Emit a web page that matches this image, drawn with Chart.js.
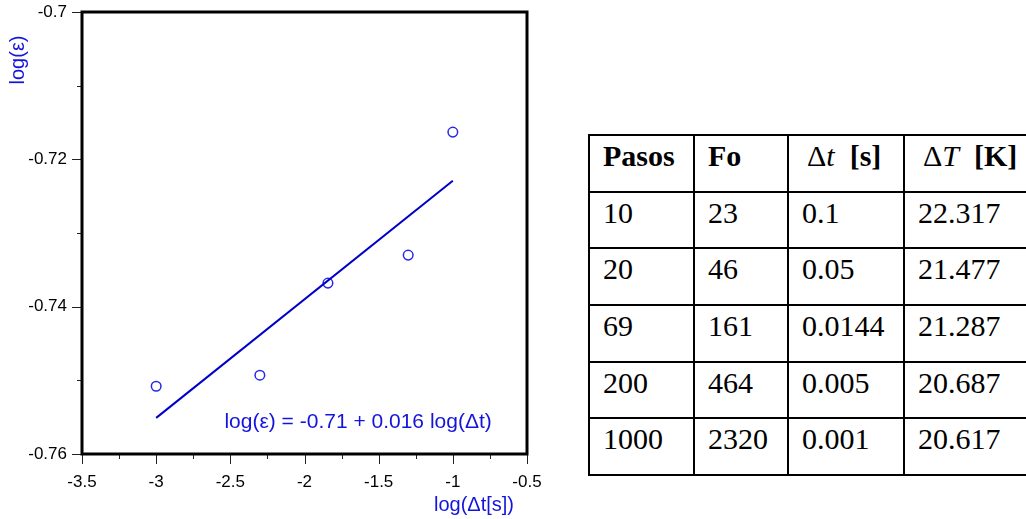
<html>
  <head>
    <script src="https://cdn.jsdelivr.net/npm/chart.js@4.4.0/dist/chart.umd.min.js"></script>
    <style>
      body { margin: 0; background: #fff; }
      #wrap { position: absolute; left: 0; top: 0; width: 560px; height: 519px; }
      table {
        position: absolute; left: 588px; top: 134px; width: 438px;
        border-collapse: collapse; table-layout: fixed;
        font-family: "Liberation Serif", "Times New Roman", serif; font-size: 30px;
      }
      td, th { border: 2px solid #000; padding: 3px 0 0 13px; vertical-align: top; text-align: left; font-weight: normal; }
      th.u { padding-left: 18px; }
      tr { height: 56.7px; }
      th b { font-weight: bold; }
    </style>
  </head>
  <body>
    <div id="wrap"><canvas id="myChart" width="560" height="519"></canvas></div>
    <table id="tbl">
      <colgroup><col style="width:105px"><col style="width:94px"><col style="width:116px"><col style="width:123px"></colgroup>
      <thead>
        <tr>
          <th><b>Pasos</b></th>
          <th><b>Fo</b></th>
          <th class="u">&Delta;<i>t</i>&nbsp; <b>[s]</b></th>
          <th class="u">&Delta;<i>T</i>&nbsp; <b>[K]</b></th>
        </tr>
      </thead>
      <tbody></tbody>
    </table>
  </body>
  <script>
    // measured points: log(dt) vs log(eps)
    const logDt = [-3, -2.301, -1.842, -1.301, -1];
    const logEps = [-0.7508, -0.7493, -0.7368, -0.7330, -0.7163];
    // fitted line end points
    const fitX = [-3, -1];
    const fitY = [-0.7551, -0.7229];

    // table columns
    const pasos = ['10', '20', '69', '200', '1000'];
    const fo = ['23', '46', '161', '464', '2320'];
    const dt = ['0.1', '0.05', '0.0144', '0.005', '0.001'];
    const dT = ['22.317', '21.477', '21.287', '20.687', '20.617'];

    const equation = 'log(\u03b5) = -0.71 + 0.016 log(\u0394t)';
    const blue = '#1414dc';

    const tbody = document.querySelector('#tbl tbody');
    pasos.forEach((p, i) => {
      const tr = document.createElement('tr');
      [p, fo[i], dt[i], dT[i]].forEach(v => {
        const td = document.createElement('td');
        td.textContent = v;
        tr.appendChild(td);
      });
      tbody.appendChild(tr);
    });

    const frame = {
      id: 'frame',
      afterDraw(chart) {
        const { ctx, chartArea: a, scales: { x, y } } = chart;
        ctx.save();
        // tick marks, long on labelled values, short between
        ctx.strokeStyle = '#222';
        ctx.lineWidth = 1;
        ctx.beginPath();
        for (let v = x.min; v <= x.max + 1e-9; v += 0.25) {
          const px = Math.round(x.getPixelForValue(v)) + 0.5;
          const major = Math.abs(v * 2 - Math.round(v * 2)) < 1e-6;
          ctx.moveTo(px, a.bottom);
          ctx.lineTo(px, a.bottom + (major ? 10 : 5));
        }
        for (let v = y.min; v <= y.max + 1e-9; v += 0.01) {
          const py = Math.round(y.getPixelForValue(v)) + 0.5;
          const major = Math.round(v * 100) % 2 === 0;
          ctx.moveTo(a.left, py);
          ctx.lineTo(a.left - (major ? 10 : 5), py);
        }
        ctx.stroke();
        // box
        ctx.strokeStyle = '#000';
        ctx.lineWidth = 3;
        ctx.strokeRect(a.left, a.top, a.right - a.left, a.bottom - a.top);
        // texts
        ctx.fillStyle = blue;
        ctx.font = '21px "Liberation Sans", Arial, sans-serif';
        ctx.textBaseline = 'middle';
        ctx.textAlign = 'left';
        ctx.fillText(equation, x.getPixelForValue(-2.54), y.getPixelForValue(-0.7557));
        ctx.font = '20px "Liberation Sans", Arial, sans-serif';
        ctx.textAlign = 'center';
        ctx.fillText('log(\u0394t[s])', 474, 505);
        ctx.translate(18, 60);
        ctx.rotate(-Math.PI / 2);
        ctx.fillText('log(\u03b5)', 0, 0);
        ctx.restore();
      }
    };

    const ctx = document.getElementById('myChart').getContext('2d');
    const myChart = new Chart(ctx, {
      data: {
        datasets: [{
          type: 'line',
          data: fitX.map((v, i) => ({ x: v, y: fitY[i] })),
          borderColor: '#0000c8',
          borderWidth: 2,
          pointRadius: 0,
          fill: false
        }, {
          type: 'scatter',
          data: logDt.map((v, i) => ({ x: v, y: logEps[i] })),
          borderColor: '#2828e6',
          backgroundColor: 'rgba(0,0,0,0)',
          borderWidth: 1.5,
          pointRadius: 4.8
        }]
      },
      plugins: [frame],
      options: {
        responsive: false,
        animation: false,
        layout: { padding: { left: 0, top: 12, right: 33, bottom: 0 } },
        plugins: { legend: { display: false }, tooltip: { enabled: false } },
        scales: {
          x: {
            type: 'linear', min: -3.5, max: -0.5,
            afterFit: s => { s.height = 65; s.paddingLeft = 0; s.paddingRight = 0; },
            grid: { display: false }, border: { display: false },
            ticks: {
              stepSize: 0.5, padding: 10, color: '#000', maxRotation: 0,
              font: { family: '"Liberation Sans", Arial, sans-serif', size: 17 },
              callback: v => String(+v.toFixed(2))
            }
          },
          y: {
            type: 'linear', min: -0.76, max: -0.7,
            afterFit: s => { s.width = 82; s.paddingTop = 0; s.paddingBottom = 0; },
            grid: { display: false }, border: { display: false },
            ticks: {
              stepSize: 0.02, padding: 7, color: '#000',
              font: { family: '"Liberation Sans", Arial, sans-serif', size: 17 },
              callback: v => String(+v.toFixed(2))
            }
          }
        }
      }
    });
  </script>
</html>
